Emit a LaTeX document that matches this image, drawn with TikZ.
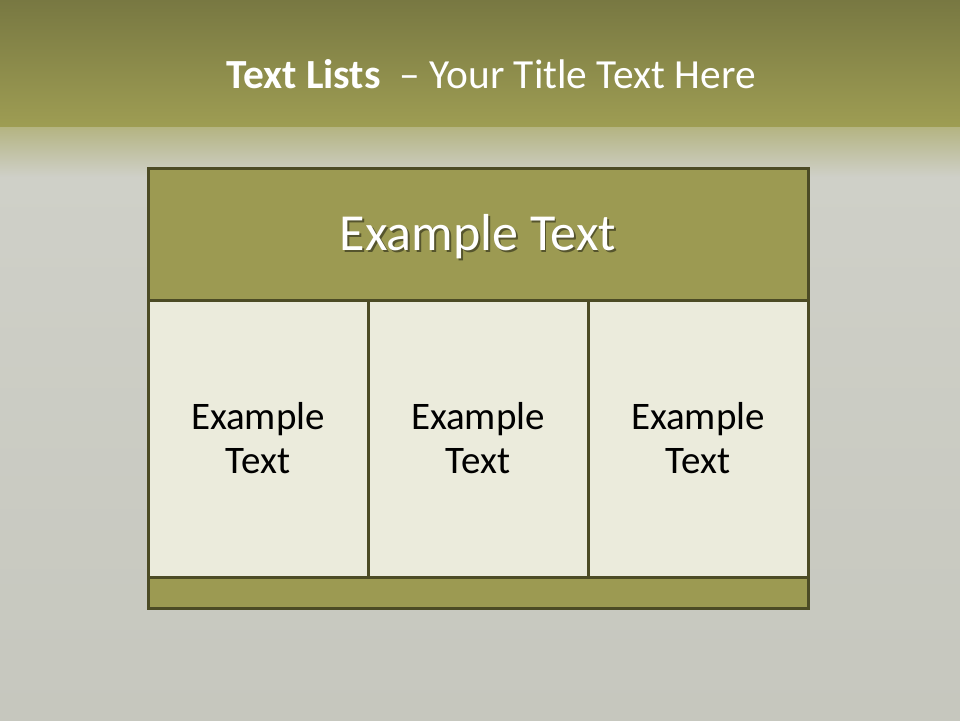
\documentclass[tikz,border=0pt]{standalone}
\usepackage{fontspec}
\setmainfont{Carlito}
\definecolor{bandtop}{HTML}{787842}
\definecolor{bandbot}{HTML}{9E9D53}
\definecolor{fadetop}{HTML}{B4B482}
\definecolor{bggray}{HTML}{C6C7BE}
\definecolor{bglight}{HTML}{CFD0C8}
\definecolor{olivefill}{HTML}{9C9A52}
\definecolor{cellfill}{HTML}{EBEBDC}
\definecolor{edge}{HTML}{4C4B25}
\tikzset{
  box/.style={draw=edge, line width=3pt, inner sep=0pt, outer sep=0pt},
  headbox/.style={box, fill=olivefill, minimum width=660pt, minimum height=132pt},
  cellbox/.style={box, fill=cellfill, minimum width=220pt, minimum height=277pt,
     align=center, font=\fontsize{39}{44}\selectfont, text=black},
  barbox/.style={box, fill=olivefill, minimum width=660pt, minimum height=31pt},
  headtext/.style={text=white, font=\fontsize{52}{60}\selectfont, inner sep=0pt},
  shadowtext/.style={text=black, opacity=0.45, font=\fontsize{52}{60}\selectfont, inner sep=0pt},
  titletext/.style={text=white, font=\fontsize{41.4}{50}\selectfont, inner sep=0pt, anchor=base}
}
\begin{document}
\begin{tikzpicture}[x=1pt,y=-1pt]
\useasboundingbox (0,0) rectangle (960,720);
% background
\fill[bggray] (0,0) rectangle (960,720);
\shade[top color=bglight, bottom color=bggray] (0,176) rectangle (960,720);
\shade[top color=bandtop, bottom color=bandbot] (0,0) rectangle (960,127);
\shade[top color=fadetop, bottom color=bglight] (0,127) rectangle (960,177);
% title
\node[titletext] (title) at (491,88) {\textbf{Text Lists}\ \ – Your Title Text Here};
% table
\node[headbox] (head) at (478,234) {};
\node[shadowtext] (headshadow) at (479.8,238.8) {Example Text};
\node[headtext] (headlabel) at (478,237) {Example Text};
\node[cellbox] (c1) at (258,438.5) {Example\\Text};
\node[cellbox] (c2) at (478,438.5) {Example\\Text};
\node[cellbox] (c3) at (698,438.5) {Example\\Text};
\node[barbox] (bar) at (478,592.5) {};
\end{tikzpicture}
\end{document}
